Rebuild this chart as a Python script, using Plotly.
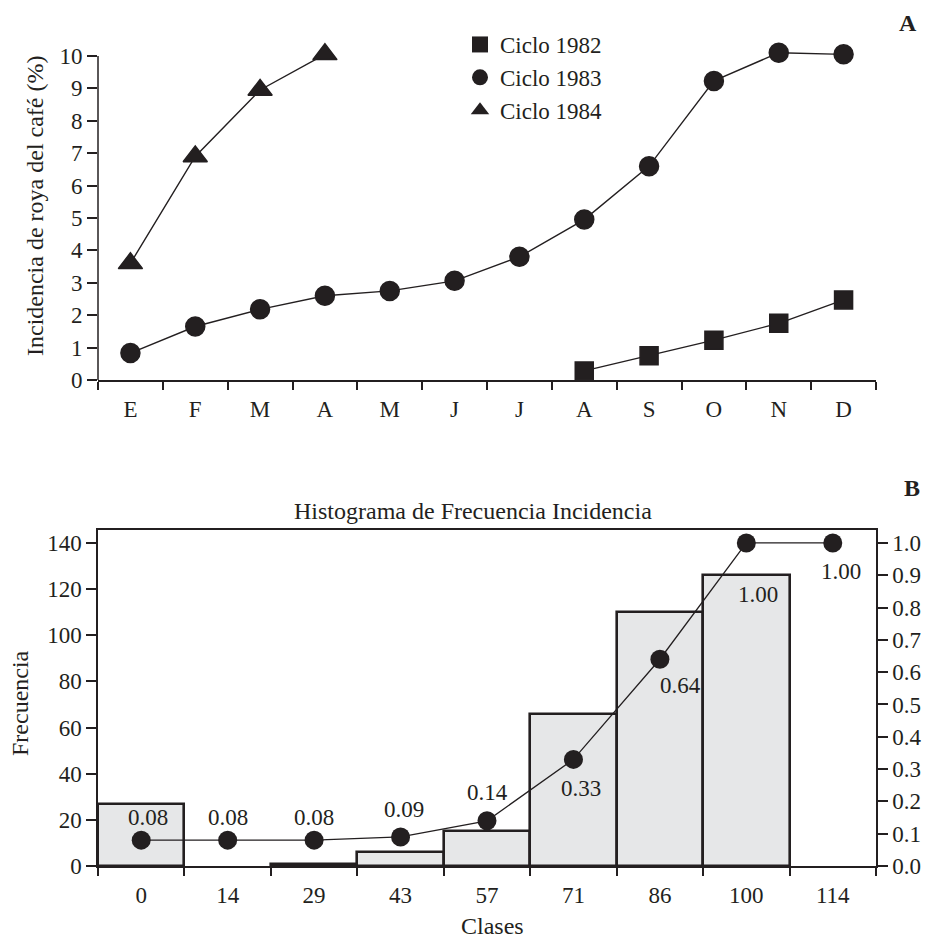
import plotly.graph_objects as go

# ---- Panel A: incidence of coffee rust per month and cycle ----
months = ["E", "F", "M", "A", "M", "J", "J", "A", "S", "O", "N", "D"]
month_idx = list(range(len(months)))

ciclo_1982 = [None, None, None, None, None, None, None, 0.28, 0.75, 1.23, 1.75, 2.47]
ciclo_1983 = [0.83, 1.65, 2.18, 2.6, 2.75, 3.06, 3.8, 4.95, 6.6, 9.23, 10.1, 10.05]
ciclo_1984 = [3.6, 6.9, 8.95, 10.05, None, None, None, None, None, None, None, None]

# ---- Panel B: frequency histogram and cumulative proportion ----
clases = ["0", "14", "29", "43", "57", "71", "86", "100", "114"]
clase_idx = list(range(len(clases)))
frecuencia = [27, 0, 1, 6, 15, 66, 110, 126, 0]
acumulada = [0.08, 0.08, 0.08, 0.09, 0.14, 0.33, 0.64, 1.00, 1.00]
acum_labels = ["0.08", "0.08", "0.08", "0.09", "0.14", "0.33", "0.64", "1.00", "1.00"]

INK = "#231f20"
FONT = "Liberation Serif, Times New Roman, serif"
W, H = 927, 942


def px_x(p):
    return p / W


def px_y(p):
    return 1 - p / H


fig = go.Figure()

series = [
    ("Ciclo 1982", ciclo_1982, "square", 18),
    ("Ciclo 1983", ciclo_1983, "circle", 19),
    ("Ciclo 1984", ciclo_1984, "triangle-up", 21),
]
for name, vals, sym, size in series:
    fig.add_trace(go.Scatter(
        x=month_idx, y=vals, mode="lines+markers", name=name,
        line=dict(color=INK, width=1.4),
        marker=dict(symbol=sym, size=size, color=INK, line=dict(color=INK, width=1.5)),
        connectgaps=False, cliponaxis=False, showlegend=False,
        xaxis="x", yaxis="y",
    ))
    # legend entry showing the marker only
    fig.add_trace(go.Scatter(
        x=[None], y=[None], mode="markers", name=name,
        marker=dict(symbol=sym, size=size, color=INK),
        showlegend=True, xaxis="x", yaxis="y",
    ))

# empty classes get no outline so the baseline stays thin
bar_outline = [2.6 if f > 0 else 0 for f in frecuencia]
fig.add_trace(go.Bar(
    x=clase_idx, y=frecuencia, width=1,
    marker=dict(color="#e6e7e8", line=dict(color=INK, width=bar_outline)),
    showlegend=False, xaxis="x2", yaxis="y2",
))
fig.add_trace(go.Scatter(
    x=clase_idx, y=acumulada, mode="lines+markers",
    line=dict(color=INK, width=1.3),
    marker=dict(symbol="circle", size=19, color=INK),
    cliponaxis=False, showlegend=False, xaxis="x2", yaxis="y3",
))

# label offsets (pixels) for the cumulative values
offsets = [(7, 23), (0, 23), (0, 23), (3, 27), (0, 28), (8, -29), (21, -26), (12, -52), (8, -29)]
annotations = []
for i, (lab, (dx, dy)) in enumerate(zip(acum_labels, offsets)):
    annotations.append(dict(
        x=clase_idx[i], y=acumulada[i], xref="x2", yref="y3", text=lab,
        xanchor="center", yanchor="middle",
        showarrow=False, xshift=dx, yshift=dy,
        font=dict(family=FONT, size=23, color=INK),
    ))


def paper_text(x, y, text, size=24, angle=0):
    return dict(x=px_x(x), y=px_y(y), xref="paper", yref="paper", text=text,
                textangle=angle, xanchor="center", yanchor="middle",
                showarrow=False, font=dict(family=FONT, size=size, color=INK))


annotations += [
    paper_text(908, 23, "<b>A</b>", 24),
    paper_text(912, 488, "<b>B</b>", 24),
    paper_text(35, 206, "Incidencia de roya del café (%)", 24, -90),
    paper_text(20, 703, "Frecuencia", 24, -90),
    paper_text(492, 926, "Clases", 24),
    paper_text(473, 511, "Histograma de Frecuencia Incidencia", 24),
]

# left spine of panel A stops at 10
shapes = [dict(type="line", xref="x domain", yref="y", x0=0, x1=0, y0=0, y1=10,
               line=dict(color=INK, width=1.5))]

tickfont = dict(family=FONT, size=23, color=INK)
x_dom = [px_x(98), px_x(876)]

fig.update_layout(
    width=W, height=H,
    margin=dict(l=0, r=0, t=0, b=0, autoexpand=False),
    paper_bgcolor="white", plot_bgcolor="white",
    font=dict(family=FONT, color=INK),
    showlegend=True,
    legend=dict(x=px_x(460), y=px_y(23), xanchor="left", yanchor="top",
                font=dict(family=FONT, size=23, color=INK),
                bgcolor="rgba(0,0,0,0)", tracegroupgap=0),
    xaxis=dict(
        domain=x_dom, anchor="y", range=[-0.5, 11.5], automargin=False,
        tickmode="array", tickvals=month_idx, ticktext=months,
        ticks="outside", ticklen=8, tickcolor="rgba(0,0,0,0)",
        showline=True, linecolor=INK, linewidth=1.5,
        showgrid=False, zeroline=False, tickfont=tickfont,
        minor=dict(tick0=-0.5, dtick=1, ticks="outside", ticklen=8,
                   tickwidth=1.5, tickcolor=INK, showgrid=False),
    ),
    yaxis=dict(
        domain=[px_y(380), px_y(43)], anchor="x", range=[0, 10.4], automargin=False,
        tickmode="array", tickvals=list(range(0, 11)),
        ticks="outside", ticklen=10, tickwidth=1.5, tickcolor=INK,
        showline=False, showgrid=False, zeroline=False, tickfont=tickfont,
    ),
    xaxis2=dict(
        domain=x_dom, anchor="y2", range=[-0.5, 8.5], automargin=False,
        tickmode="array", tickvals=clase_idx, ticktext=clases,
        ticks="outside", ticklen=8, tickcolor="rgba(0,0,0,0)",
        showline=True, linecolor=INK, linewidth=1.5, mirror=True,
        showgrid=False, zeroline=False, tickfont=tickfont,
        minor=dict(tick0=-0.5, dtick=1, ticks="outside", ticklen=8,
                   tickwidth=1.5, tickcolor=INK, showgrid=False),
    ),
    yaxis2=dict(
        domain=[px_y(866), px_y(530)], anchor="x2", range=[0, 145.6], automargin=False,
        tickmode="array", tickvals=list(range(0, 141, 20)),
        ticks="outside", ticklen=10, tickwidth=1.5, tickcolor=INK,
        showline=True, linecolor=INK, linewidth=1.5,
        showgrid=False, zeroline=False, tickfont=tickfont,
    ),
    yaxis3=dict(
        overlaying="y2", side="right", anchor="x2", range=[0, 1.04], automargin=False,
        tickmode="array", tickvals=[i / 10 for i in range(11)],
        ticktext=[f"{i / 10:.1f}" for i in range(11)],
        ticks="outside", ticklen=10, tickwidth=1.5, tickcolor=INK,
        showline=True, linecolor=INK, linewidth=1.5,
        showgrid=False, zeroline=False, tickfont=tickfont,
    ),
    bargap=0,
    annotations=annotations,
    shapes=shapes,
)

fig.write_html("out.html")
